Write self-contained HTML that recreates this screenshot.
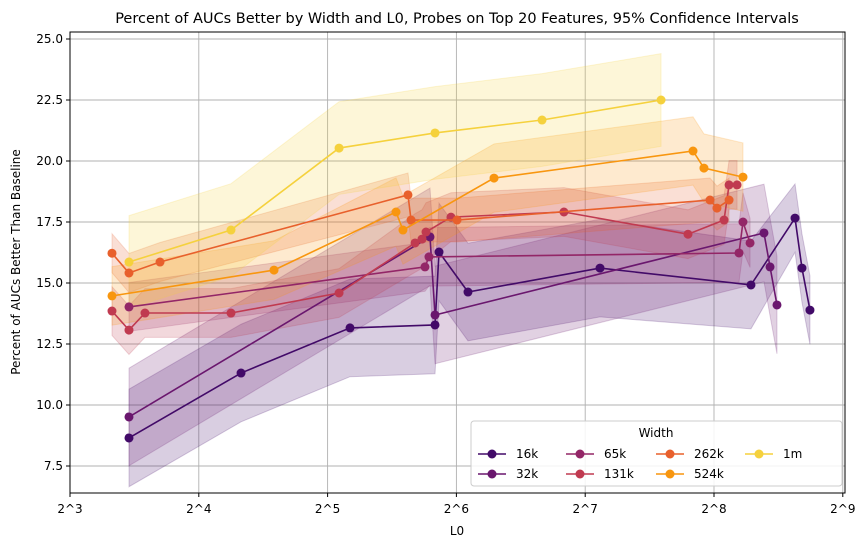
<!DOCTYPE html>
<html><head><meta charset="utf-8"><style>
body{margin:0;background:#fff;font-family:"Liberation Sans","DejaVu Sans",sans-serif}
svg text{font-family:"DejaVu Sans","Liberation Sans",sans-serif}
</style></head><body>
<svg id="chart" width="867" height="547" viewBox="0 0 867 547" xmlns="http://www.w3.org/2000/svg"></svg>
<script>
const seriesNames=["16k","32k","65k","131k","262k","524k","1m"];
const seriesColors=["#420a68","#6a176e","#932667","#c03a50","#e8602c","#f8960f","#f5d13d"];
const xTicks=[3,4,5,6,7,8,9];
const xTickLabels=["2^3","2^4","2^5","2^6","2^7","2^8","2^9"];
const yTicks=[7.5,10,12.5,15,17.5,20,22.5,25];
const yTickLabels=["7.5","10.0","12.5","15.0","17.5","20.0","22.5","25.0"];
// x in log2(L0)
const x16k=[3.458,4.328,5.174,5.834,5.865,6.090,7.115,8.287,8.629,8.683,8.745];
const y16k=[8.65,11.31,13.16,13.28,16.27,14.63,15.61,14.92,17.66,15.61,13.89];
const ci16k=[2.0,2.0,2.0,2.0,2.0,2.0,2.0,1.8,1.4,1.4,1.4];
const x32k=[3.458,5.795,5.834,8.388,8.435,8.489];
const y32k=[9.51,16.89,13.69,17.05,15.66,14.10];
const ci32k=[2.0,2.0,2.0,2.0,2.0,2.0];
const x65k=[3.458,5.756,5.787,8.194,8.225,8.280];
const y65k=[14.02,15.66,16.07,16.23,17.50,16.64];
const ci65k=[1.0,1.0,1.2,1.2,1.2,1.0];
const x131k=[3.326,3.458,3.582,4.250,5.089,5.679,5.733,5.764,5.958,6.835,7.798,8.078,8.117,8.179];
const y131k=[13.85,13.07,13.77,13.77,14.59,16.64,16.80,17.09,17.70,17.91,17.00,17.58,19.02,19.02];
const ci131k=[1.0,1.0,1.0,1.0,1.0,1.2,1.2,1.2,1.0,1.0,1.0,1.0,1.0,1.0];
const x262k=[3.326,3.458,3.699,5.624,5.648,6.005,7.969,8.023,8.117];
const y262k=[16.22,15.41,15.86,18.61,17.58,17.58,18.40,18.07,18.40];
const ci262k=[0.8,0.8,0.8,0.9,0.9,0.9,0.9,0.9,0.9];
const x524k=[3.326,4.584,5.531,5.585,6.292,7.837,7.922,8.225];
const y524k=[14.47,15.53,17.91,17.17,19.30,20.41,19.71,19.34];
const ci524k=[1.2,1.2,1.4,1.4,1.4,1.4,1.4,1.4];
const x1m=[3.458,4.250,5.089,5.834,6.665,7.589];
const y1m=[15.86,17.17,20.53,21.15,21.68,22.50];
const ci1m=[1.9,1.9,1.9,1.9,1.9,1.9];
const allX=[x16k,x32k,x65k,x131k,x262k,x524k,x1m];
const allY=[y16k,y32k,y65k,y131k,y262k,y524k,y1m];
const allCI=[ci16k,ci32k,ci65k,ci131k,ci262k,ci524k,ci1m];

const svg=document.getElementById('chart');
const NS="http://www.w3.org/2000/svg";
const L=70,R=845,T=32,B=493;
const xs=v=>70+(v-3)*128.8;
const ys=v=>39+(25-v)*24.4;
function mk(tag,attrs,parent){const e=document.createElementNS(NS,tag);for(const k in attrs)e.setAttribute(k,attrs[k]);(parent||svg).appendChild(e);return e;}
const grid=mk('g',{});


xTicks.forEach(t=>{mk('line',{x1:xs(t),x2:xs(t),y1:T,y2:B,stroke:'#b0b0b0','stroke-width':0.9},grid);});
yTicks.forEach(t=>{mk('line',{x1:L,x2:R,y1:ys(t),y2:ys(t),stroke:'#b0b0b0','stroke-width':0.9},grid);});
const bands=mk('g',{});


for(let s=0;s<7;s++){
  const X=allX[s],Y=allY[s],C=allCI[s];
  let up=X.map((x,i)=>xs(x)+','+ys(Y[i]+C[i]));
  let lo=X.map((x,i)=>xs(x)+','+ys(Y[i]-C[i])).reverse();
  const p=mk('polygon',{points:up.concat(lo).join(' '),fill:seriesColors[s],'fill-opacity':0.2,stroke:seriesColors[s],'stroke-opacity':0.2},bands);
  
  
}
for(let s=0;s<7;s++){
  const g=mk('g',{});
  
  
  const X=allX[s],Y=allY[s];
  mk('polyline',{points:X.map((x,i)=>xs(x)+','+ys(Y[i])).join(' '),fill:'none',stroke:seriesColors[s],'stroke-width':1.6},g);
  X.forEach((x,i)=>{const c=mk('circle',{cx:xs(x),cy:ys(Y[i]),r:4.5,fill:seriesColors[s]},g);
    
    });
}
mk('rect',{x:L,y:T,width:R-L,height:B-T,fill:'none',stroke:'#000','stroke-width':1});
const axes=mk('g',{});


xTicks.forEach((t,i)=>{mk('line',{x1:xs(t),x2:xs(t),y1:B,y2:B+4,stroke:'#000'},axes);
  const tx=mk('text',{x:xs(t),y:B+20,'font-size':12,'text-anchor':'middle'},axes);tx.textContent=xTickLabels[i];});
yTicks.forEach((t,i)=>{mk('line',{x1:L-4,x2:L,y1:ys(t),y2:ys(t),stroke:'#000'},axes);
  const tx=mk('text',{x:L-7,y:ys(t)+4,'font-size':12,'text-anchor':'end'},axes);tx.textContent=yTickLabels[i];});
const xl=mk('text',{x:457,y:535,'font-size':12,'text-anchor':'middle'});xl.textContent='L0';

const yl=mk('text',{x:20,y:262,'font-size':12,'text-anchor':'middle',transform:'rotate(-90 20 262)'});yl.textContent='Percent of AUCs Better Than Baseline';

const ti=mk('text',{x:457,y:23,'font-size':14.5,'text-anchor':'middle'});ti.textContent='Percent of AUCs Better by Width and L0, Probes on Top 20 Features, 95% Confidence Intervals';

const lg=mk('g',{});


mk('rect',{x:471,y:421,width:371,height:65,rx:3,fill:'#fff','fill-opacity':0.85,stroke:'#ccc'},lg);
const lt=mk('text',{x:656,y:437,'font-size':12,'text-anchor':'middle'},lg);lt.textContent='Width';
const colX=[478,566,656,745];
seriesNames.forEach((n,i)=>{
  const cx=colX[Math.floor(i/2)],cy=i%2===0?454:474;
  const e=mk('g',{},lg);
  
  
  mk('line',{x1:cx,x2:cx+28,y1:cy,y2:cy,stroke:seriesColors[i],'stroke-width':1.6},e);
  mk('circle',{cx:cx+14,cy:cy,r:4.5,fill:seriesColors[i]},e);
  const t=mk('text',{x:cx+38,y:cy+4,'font-size':12},e);t.textContent=n;
});
</script>
</body></html>
